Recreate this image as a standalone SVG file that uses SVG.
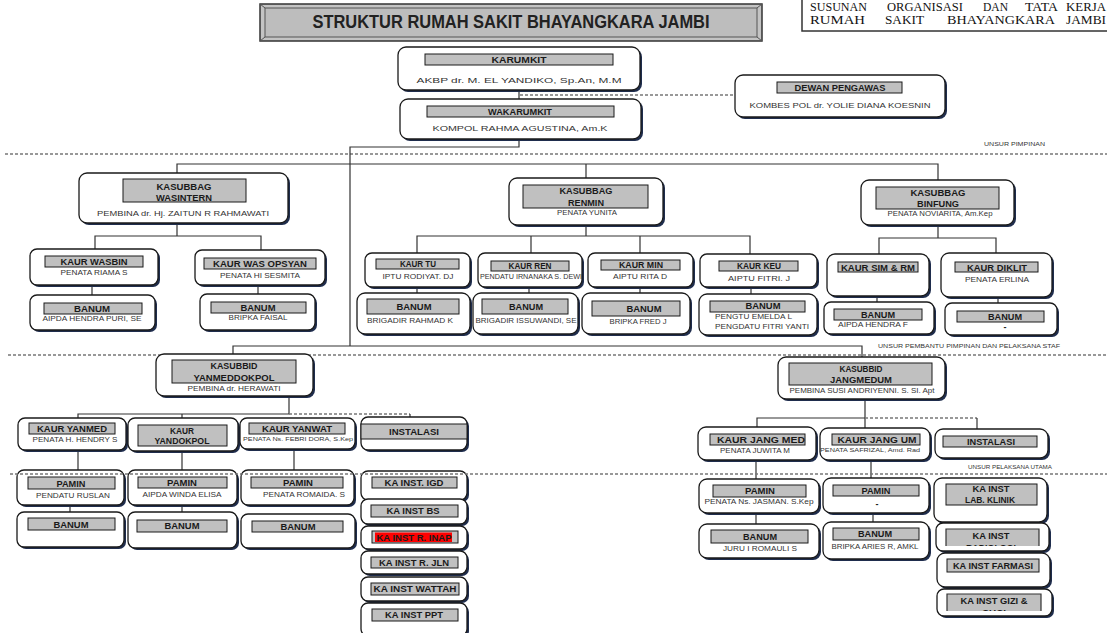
<svg xmlns="http://www.w3.org/2000/svg" width="1107" height="633" viewBox="0 0 1107 633">
<style>
.sh{fill:#1f2d4d}
.bx{fill:#fff;stroke:#1a1a1a;stroke-width:1.3}
.lb{fill:#c0c0c0;stroke:#1a1a1a;stroke-width:1}
.lbf{fill:#c0c0c0;stroke:none}
.t{font-family:"Liberation Sans",Arial,sans-serif;font-weight:bold;font-size:9px;fill:#1a1a1a;text-anchor:middle}
.n{font-family:"Liberation Sans",Arial,sans-serif;font-size:8px;fill:#333;text-anchor:middle}
.nl{font-family:"Liberation Sans",Arial,sans-serif;font-size:8px;fill:#333;text-anchor:start}
.s{font-family:"Liberation Sans",Arial,sans-serif;font-size:6px;fill:#333;text-anchor:middle}
.ln{stroke:#333;stroke-width:1.2;fill:none}
.ds{stroke:#777;stroke-width:1.5;stroke-dasharray:3 2;fill:none}
.sf{font-family:"Liberation Serif","Times New Roman",serif;font-size:12.5px;fill:#111}
</style>
<defs>
<clipPath id="clipRad"><rect x="940" y="525" width="105" height="21"/></clipPath>
<clipPath id="clipGizi"><rect x="940" y="590" width="105" height="21"/></clipPath>
</defs>
<rect width="1107" height="633" fill="#fff"/>

<!-- header -->
<g id="title">
<rect x="260" y="4" width="502" height="37" fill="#c4c4c4" stroke="#333" stroke-width="1.5"/>
<rect x="265" y="8" width="492" height="29" fill="#bdbdbd" stroke="#555" stroke-width="1"/>
<line x1="260" y1="4" x2="265" y2="8" stroke="#555"/><line x1="260" y1="41" x2="265" y2="37" stroke="#555"/>
<line x1="762" y1="4" x2="757" y2="8" stroke="#555"/><line x1="762" y1="41" x2="757" y2="37" stroke="#555"/>
<text x="511" y="28" font-family="Liberation Sans,Arial,sans-serif" font-weight="bold" font-size="18" fill="#222" text-anchor="middle" textLength="397" lengthAdjust="spacingAndGlyphs">STRUKTUR RUMAH SAKIT BHAYANGKARA JAMBI</text>
</g>
<g id="header-right">
<rect x="802" y="-3" width="312" height="34" fill="#fff" stroke="#333" stroke-width="1.5"/>
<text class="sf" y="11"><tspan x="810" textLength="57" lengthAdjust="spacingAndGlyphs">SUSUNAN</tspan><tspan x="887" textLength="76" lengthAdjust="spacingAndGlyphs">ORGANISASI</tspan><tspan x="983" textLength="25" lengthAdjust="spacingAndGlyphs">DAN</tspan><tspan x="1025" textLength="33" lengthAdjust="spacingAndGlyphs">TATA</tspan><tspan x="1066" textLength="40" lengthAdjust="spacingAndGlyphs">KERJA</tspan></text>
<text class="sf" y="24"><tspan x="810" textLength="55" lengthAdjust="spacingAndGlyphs">RUMAH</tspan><tspan x="885" textLength="39" lengthAdjust="spacingAndGlyphs">SAKIT</tspan><tspan x="947" textLength="108" lengthAdjust="spacingAndGlyphs">BHAYANGKARA</tspan><tspan x="1066" textLength="40" lengthAdjust="spacingAndGlyphs">JAMBI</tspan></text>
</g>

<!-- separators -->
<g id="separators">
<line class="ds" x1="5" y1="154" x2="1107" y2="154"/>
<line class="ds" x1="8" y1="355" x2="1107" y2="355"/>
<text x="984" y="146" font-family="Liberation Sans,Arial,sans-serif" font-size="6" fill="#333" textLength="61" lengthAdjust="spacingAndGlyphs">UNSUR PIMPINAN</text>
<text x="878" y="348" font-family="Liberation Sans,Arial,sans-serif" font-size="6" fill="#333" textLength="182" lengthAdjust="spacingAndGlyphs">UNSUR PEMBANTU PIMPINAN DAN PELAKSANA STAF</text>
<text x="968" y="469" font-family="Liberation Sans,Arial,sans-serif" font-size="6" fill="#333" textLength="84" lengthAdjust="spacingAndGlyphs">UNSUR PELAKSANA UTAMA</text>
</g>

<!-- connectors -->
<g id="connectors">
<path class="ln" d="M519 90V99"/>
<path class="ds" d="M520 95H735" stroke-width="1.2"/>
<path class="ln" d="M519 139V147H350V346"/>
<path class="ln" d="M233 354V346H862V357"/>
<path class="ln" d="M177 173V164H938V180M586 164V178"/>
<path class="ln" d="M177 223V236M95 249V236H261V250M92 285V295M258 285V294"/>
<path class="ln" d="M586 225V236M417 253V236H750V254M531 236V253M640 236V253"/>
<path class="ln" d="M417 287V293M529 287V293M640 287V293M751 287V294"/>
<path class="ln" d="M938 225V238M879 254V238H996V253M877 296V302M998 297V303"/>
<path class="ln" d="M289 396V414H78V418M182 414V418"/>
<path class="ds" d="M289 414H410" stroke-width="1.2"/>
<path class="ln" d="M410 414V417"/>
<path class="ln" d="M78 450V470M182 451V470M294 449V470M70 505V512M182 505V512"/>
<path class="ln" d="M865 399V428M757 427V418H865"/>
<path class="ds" d="M865 418H977" stroke-width="1.2"/>
<path class="ln" d="M977 418V429"/>
<path class="ln" d="M756 460V479M756 513V524M871 460V478M873 513V522"/>
</g>

<!-- top -->
<g id="karumkit">
<rect class="sh" x="400" y="49" width="242" height="43" rx="8"/>
<rect class="bx" x="398" y="47" width="242" height="43" rx="8"/>
<rect class="lb" x="425" y="54" width="188" height="11"/>
<text class="t" x="519" y="63" textLength="55" lengthAdjust="spacingAndGlyphs">KARUMKIT</text>
<text class="n" x="519" y="83" font-size="11" textLength="205" lengthAdjust="spacingAndGlyphs">AKBP dr. M. EL YANDIKO, Sp.An, M.M</text>
</g>
<g id="wakarumkit">
<rect class="sh" x="402" y="101" width="241" height="40" rx="8"/>
<rect class="bx" x="400" y="99" width="241" height="40" rx="8"/>
<rect class="lb" x="427" y="106" width="187" height="11"/>
<text class="t" x="520" y="115" textLength="64" lengthAdjust="spacingAndGlyphs">WAKARUMKIT</text>
<text class="n" x="520" y="131" font-size="10.5" textLength="175" lengthAdjust="spacingAndGlyphs">KOMPOL RAHMA AGUSTINA, Am.K</text>
</g>
<g id="dewan-pengawas">
<rect class="sh" x="737" y="77" width="210" height="42" rx="8"/>
<rect class="bx" x="735" y="75" width="210" height="42" rx="8"/>
<rect class="lb" x="777" y="82" width="125" height="11"/>
<text class="t" x="840" y="90.5" font-size="8.5" textLength="91" lengthAdjust="spacingAndGlyphs">DEWAN PENGAWAS</text>
<text class="n" x="840" y="108" font-size="8.5" textLength="181" lengthAdjust="spacingAndGlyphs">KOMBES POL dr. YOLIE DIANA KOESNIN</text>
</g>

<!-- WASINTERN -->
<g id="wasintern">
<rect class="sh" x="81" y="175" width="209" height="50" rx="8"/>
<rect class="bx" x="79" y="173" width="209" height="50" rx="8"/>
<rect class="lb" x="123" y="179" width="123" height="23"/>
<text class="t" x="184" y="190" textLength="55" lengthAdjust="spacingAndGlyphs">KASUBBAG</text>
<text class="t" x="184" y="200.5" textLength="56" lengthAdjust="spacingAndGlyphs">WASINTERN</text>
<text class="n" x="183" y="216" textLength="172" lengthAdjust="spacingAndGlyphs">PEMBINA dr. Hj. ZAITUN R RAHMAWATI</text>
</g>
<g id="kaur-wasbin">
<rect class="sh" x="32" y="251" width="128" height="36" rx="7"/>
<rect class="bx" x="30" y="249" width="128" height="36" rx="7"/>
<rect class="lb" x="45" y="256" width="98" height="11"/>
<text class="t" x="94" y="265" textLength="67" lengthAdjust="spacingAndGlyphs">KAUR WASBIN</text>
<text class="n" x="94" y="274.5" font-size="7.5" textLength="67" lengthAdjust="spacingAndGlyphs">PENATA RIAMA S</text>
</g>
<g id="kaur-was-opsyan">
<rect class="sh" x="197" y="252" width="130" height="35" rx="7"/>
<rect class="bx" x="195" y="250" width="130" height="35" rx="7"/>
<rect class="lb" x="204" y="258" width="112" height="11"/>
<text class="t" x="260" y="267" textLength="94" lengthAdjust="spacingAndGlyphs">KAUR WAS OPSYAN</text>
<text class="n" x="260" y="278" textLength="80" lengthAdjust="spacingAndGlyphs">PENATA HI SESMITA</text>
</g>
<g id="banum-wasbin">
<rect class="sh" x="32" y="297" width="125" height="35" rx="7"/>
<rect class="bx" x="30" y="295" width="125" height="35" rx="7"/>
<rect class="lb" x="44" y="303" width="98" height="11"/>
<text class="t" x="92" y="311.5" textLength="36" lengthAdjust="spacingAndGlyphs">BANUM</text>
<text class="n" x="92" y="321" textLength="99" lengthAdjust="spacingAndGlyphs">AIPDA HENDRA PURI, SE</text>
</g>
<g id="banum-opsyan">
<rect class="sh" x="202" y="296" width="115" height="36" rx="7"/>
<rect class="bx" x="200" y="294" width="115" height="36" rx="7"/>
<rect class="lb" x="211" y="302" width="95" height="11"/>
<text class="t" x="258" y="310.5" textLength="35" lengthAdjust="spacingAndGlyphs">BANUM</text>
<text class="n" x="258" y="319.5" textLength="59" lengthAdjust="spacingAndGlyphs">BRIPKA FAISAL</text>
</g>

<!-- RENMIN -->
<g id="renmin">
<rect class="sh" x="511" y="180" width="154" height="47" rx="8"/>
<rect class="bx" x="509" y="178" width="154" height="47" rx="8"/>
<rect class="lb" x="523" y="185" width="125" height="23"/>
<text class="t" x="586" y="194" textLength="53" lengthAdjust="spacingAndGlyphs">KASUBBAG</text>
<text class="t" x="586" y="205.5" textLength="36" lengthAdjust="spacingAndGlyphs">RENMIN</text>
<text class="n" x="587" y="215" font-size="7.5" textLength="60" lengthAdjust="spacingAndGlyphs">PENATA YUNITA</text>
</g>
<g id="kaur-tu">
<rect class="sh" x="367" y="255" width="105" height="34" rx="7"/>
<rect class="bx" x="365" y="253" width="105" height="34" rx="7"/>
<rect class="lb" x="376" y="259" width="83" height="10"/>
<text class="t" x="418" y="267" textLength="36" lengthAdjust="spacingAndGlyphs">KAUR TU</text>
<text class="n" x="418" y="279" textLength="71" lengthAdjust="spacingAndGlyphs">IPTU RODIYAT. DJ</text>
</g>
<g id="kaur-ren">
<rect class="sh" x="480" y="255" width="104" height="34" rx="7"/>
<rect class="bx" x="478" y="253" width="104" height="34" rx="7"/>
<rect class="lb" x="491" y="261" width="78" height="10"/>
<text class="t" x="530" y="269" textLength="43" lengthAdjust="spacingAndGlyphs">KAUR REN</text>
<text class="n" x="531" y="279" font-size="7" textLength="102" lengthAdjust="spacingAndGlyphs">PENDATU IRNANAKA S. DEWI</text>
</g>
<g id="kaur-min">
<rect class="sh" x="590" y="255" width="105" height="34" rx="7"/>
<rect class="bx" x="588" y="253" width="105" height="34" rx="7"/>
<rect class="lb" x="601" y="260" width="79" height="10"/>
<text class="t" x="641" y="268" textLength="44" lengthAdjust="spacingAndGlyphs">KAUR MIN</text>
<text class="n" x="640" y="279" textLength="54" lengthAdjust="spacingAndGlyphs">AIPTU RITA D</text>
</g>
<g id="kaur-keu">
<rect class="sh" x="702" y="256" width="117" height="33" rx="7"/>
<rect class="bx" x="700" y="254" width="117" height="33" rx="7"/>
<rect class="lb" x="719" y="261" width="79" height="10"/>
<text class="t" x="759" y="269" textLength="44" lengthAdjust="spacingAndGlyphs">KAUR KEU</text>
<text class="n" x="759" y="281" textLength="62" lengthAdjust="spacingAndGlyphs">AIPTU FITRI. J</text>
</g>
<g id="banum-tu">
<rect class="sh" x="359" y="295" width="113" height="41" rx="8"/>
<rect class="bx" x="357" y="293" width="113" height="41" rx="8"/>
<rect class="lb" x="367" y="299" width="92" height="15"/>
<text class="t" x="414" y="310" textLength="35" lengthAdjust="spacingAndGlyphs">BANUM</text>
<text class="n" x="410" y="323" textLength="86" lengthAdjust="spacingAndGlyphs">BRIGADIR RAHMAD K</text>
</g>
<g id="banum-ren">
<rect class="sh" x="475" y="295" width="105" height="41" rx="8"/>
<rect class="bx" x="473" y="293" width="105" height="41" rx="8"/>
<rect class="lb" x="482" y="299" width="86" height="15"/>
<text class="t" x="526" y="310" textLength="34" lengthAdjust="spacingAndGlyphs">BANUM</text>
<text class="n" x="526" y="323" textLength="101" lengthAdjust="spacingAndGlyphs">BRIGADIR ISSUWANDI, SE</text>
</g>
<g id="banum-min">
<rect class="sh" x="584" y="295" width="108" height="41" rx="8"/>
<rect class="bx" x="582" y="293" width="108" height="41" rx="8"/>
<rect class="lb" x="592" y="301" width="88" height="15"/>
<text class="t" x="644" y="312" textLength="35" lengthAdjust="spacingAndGlyphs">BANUM</text>
<text class="n" x="638" y="324" textLength="57" lengthAdjust="spacingAndGlyphs">BRIPKA FRED J</text>
</g>
<g id="banum-keu">
<rect class="sh" x="701" y="296" width="118" height="41" rx="8"/>
<rect class="bx" x="699" y="294" width="118" height="41" rx="8"/>
<rect class="lb" x="710" y="301" width="95" height="11"/>
<text class="t" x="763" y="309" textLength="35" lengthAdjust="spacingAndGlyphs">BANUM</text>
<text class="nl" x="715" y="318.5" textLength="77" lengthAdjust="spacingAndGlyphs">PENGTU EMELDA L</text>
<text class="nl" x="715" y="328.5" textLength="94" lengthAdjust="spacingAndGlyphs">PENGDATU FITRI YANTI</text>
</g>

<!-- BINFUNG -->
<g id="binfung">
<rect class="sh" x="863" y="182" width="153" height="45" rx="8"/>
<rect class="bx" x="861" y="180" width="153" height="45" rx="8"/>
<rect class="lb" x="876" y="187" width="123" height="22"/>
<text class="t" x="938" y="195.5" textLength="55" lengthAdjust="spacingAndGlyphs">KASUBBAG</text>
<text class="t" x="938" y="206.5" textLength="42" lengthAdjust="spacingAndGlyphs">BINFUNG</text>
<text class="n" x="940" y="216" font-size="7.5" textLength="105" lengthAdjust="spacingAndGlyphs">PENATA NOVIARITA, Am.Kep</text>
</g>
<g id="kaur-sim-rm">
<rect class="sh" x="829" y="256" width="102" height="42" rx="8"/>
<rect class="bx" x="827" y="254" width="102" height="42" rx="8"/>
<rect class="lb" x="838" y="262" width="80" height="10"/>
<text class="t" x="878" y="270.5" textLength="74" lengthAdjust="spacingAndGlyphs">KAUR SIM &amp; RM</text>
</g>
<g id="kaur-diklit">
<rect class="sh" x="943" y="255" width="111" height="44" rx="8"/>
<rect class="bx" x="941" y="253" width="111" height="44" rx="8"/>
<rect class="lb" x="955" y="262" width="83" height="10"/>
<text class="t" x="997" y="270.5" textLength="60" lengthAdjust="spacingAndGlyphs">KAUR DIKLIT</text>
<text class="n" x="997" y="282" textLength="64" lengthAdjust="spacingAndGlyphs">PENATA ERLINA</text>
</g>
<g id="banum-sim">
<rect class="sh" x="826" y="304" width="110" height="32" rx="7"/>
<rect class="bx" x="824" y="302" width="110" height="32" rx="7"/>
<rect class="lb" x="834" y="309" width="88" height="11"/>
<text class="t" x="878" y="318" textLength="34" lengthAdjust="spacingAndGlyphs">BANUM</text>
<text class="n" x="873" y="327" textLength="70" lengthAdjust="spacingAndGlyphs">AIPDA HENDRA  F</text>
</g>
<g id="banum-diklit">
<rect class="sh" x="947" y="305" width="112" height="32" rx="7"/>
<rect class="bx" x="945" y="303" width="112" height="32" rx="7"/>
<rect class="lb" x="957" y="311" width="87" height="11"/>
<text class="t" x="1005" y="319.5" textLength="34" lengthAdjust="spacingAndGlyphs">BANUM</text>
<text class="t" x="1005" y="330">-</text>
</g>

<!-- YANMEDDOKPOL -->
<g id="yanmeddokpol">
<rect class="sh" x="158" y="356" width="157" height="42" rx="8"/>
<rect class="bx" x="156" y="354" width="157" height="42" rx="8"/>
<rect class="lb" x="172" y="360" width="124" height="23"/>
<text class="t" x="234" y="368.5" textLength="47" lengthAdjust="spacingAndGlyphs">KASUBBID</text>
<text class="t" x="234" y="380.5" textLength="81" lengthAdjust="spacingAndGlyphs">YANMEDDOKPOL</text>
<text class="n" x="234" y="391" font-size="7.5" textLength="93" lengthAdjust="spacingAndGlyphs">PEMBINA dr. HERAWATI</text>
</g>
<g id="kaur-yanmed">
<rect class="sh" x="20" y="420" width="108" height="32" rx="7"/>
<rect class="bx" x="18" y="418" width="108" height="32" rx="7"/>
<rect class="lb" x="29" y="423" width="86" height="11"/>
<text class="t" x="72" y="432" textLength="70" lengthAdjust="spacingAndGlyphs">KAUR YANMED</text>
<text class="n" x="75" y="442" font-size="7" textLength="85" lengthAdjust="spacingAndGlyphs">PENATA H. HENDRY S</text>
</g>
<g id="kaur-yandokpol">
<rect class="sh" x="130" y="420" width="110" height="33" rx="7"/>
<rect class="bx" x="128" y="418" width="110" height="33" rx="7"/>
<rect class="lb" x="138" y="425" width="89" height="21"/>
<text class="t" x="182" y="433.5" textLength="24" lengthAdjust="spacingAndGlyphs">KAUR</text>
<text class="t" x="182" y="444" textLength="55" lengthAdjust="spacingAndGlyphs">YANDOKPOL</text>
</g>
<g id="kaur-yanwat">
<rect class="sh" x="242" y="420" width="115" height="31" rx="7"/>
<rect class="bx" x="240" y="418" width="115" height="31" rx="7"/>
<rect class="lb" x="249" y="423" width="96" height="11"/>
<text class="t" x="297" y="432" textLength="70" lengthAdjust="spacingAndGlyphs">KAUR YANWAT</text>
<text class="s" x="298" y="440.5" textLength="110" lengthAdjust="spacingAndGlyphs">PENATA Ns. FEBRI DORA, S.Kep</text>
</g>
<g id="instalasi-yanmed">
<rect class="sh" x="363" y="419" width="106" height="33" rx="7"/>
<rect class="bx" x="361" y="417" width="106" height="33" rx="7"/>
<rect class="lb" x="361" y="424" width="106" height="15"/>
<text class="t" x="414" y="434.5" textLength="50" lengthAdjust="spacingAndGlyphs">INSTALASI</text>
</g>
<g id="pamin-yanmed">
<rect class="sh" x="19" y="472" width="107" height="35" rx="7"/>
<rect class="bx" x="17" y="470" width="107" height="35" rx="7"/>
<rect class="lb" x="28" y="477" width="87" height="12"/>
<text class="t" x="71" y="486.5" textLength="29" lengthAdjust="spacingAndGlyphs">PAMIN</text>
<text class="n" x="73" y="497.5" font-size="7.5" textLength="74" lengthAdjust="spacingAndGlyphs">PENDATU RUSLAN</text>
</g>
<g id="pamin-yandokpol">
<rect class="sh" x="130" y="472" width="109" height="35" rx="7"/>
<rect class="bx" x="128" y="470" width="109" height="35" rx="7"/>
<rect class="lb" x="138" y="477" width="89" height="11"/>
<text class="t" x="182" y="486" textLength="30" lengthAdjust="spacingAndGlyphs">PAMIN</text>
<text class="n" x="182" y="496.5" font-size="7.5" textLength="79" lengthAdjust="spacingAndGlyphs">AIPDA WINDA ELISA</text>
</g>
<g id="pamin-yanwat">
<rect class="sh" x="243" y="472" width="113" height="35" rx="7"/>
<rect class="bx" x="241" y="470" width="113" height="35" rx="7"/>
<rect class="lb" x="251" y="477" width="92" height="11"/>
<text class="t" x="298" y="486" textLength="30" lengthAdjust="spacingAndGlyphs">PAMIN</text>
<text class="n" x="304" y="496.5" font-size="7.5" textLength="82" lengthAdjust="spacingAndGlyphs">PENATA ROMAIDA. S</text>
</g>
<g id="banum-yanmed">
<rect class="sh" x="19" y="514" width="107" height="35" rx="7"/>
<rect class="bx" x="17" y="512" width="107" height="35" rx="7"/>
<rect class="lb" x="28" y="518" width="87" height="12"/>
<text class="t" x="71" y="527.5" textLength="35" lengthAdjust="spacingAndGlyphs">BANUM</text>
</g>
<g id="banum-yandokpol">
<rect class="sh" x="130" y="514" width="109" height="36" rx="7"/>
<rect class="bx" x="128" y="512" width="109" height="36" rx="7"/>
<rect class="lb" x="137" y="520" width="90" height="12"/>
<text class="t" x="182" y="529" textLength="35" lengthAdjust="spacingAndGlyphs">BANUM</text>
</g>
<g id="banum-yanwat">
<rect class="sh" x="243" y="516" width="114" height="34" rx="7"/>
<rect class="bx" x="241" y="514" width="114" height="34" rx="7"/>
<rect class="lb" x="252" y="521" width="91" height="11"/>
<text class="t" x="298" y="530" textLength="35" lengthAdjust="spacingAndGlyphs">BANUM</text>
</g>

<!-- KA INST left column -->
<g id="ka-inst-igd">
<rect class="sh" x="363" y="473" width="106" height="29" rx="7"/>
<rect class="bx" x="361" y="471" width="106" height="29" rx="7"/>
<rect class="lb" x="372" y="477" width="85" height="11"/>
<text class="t" x="414" y="485.5" textLength="59" lengthAdjust="spacingAndGlyphs">KA INST. IGD</text>
</g>
<g id="ka-inst-bs">
<rect class="sh" x="363" y="501" width="106" height="25" rx="7"/>
<rect class="bx" x="361" y="499" width="106" height="25" rx="7"/>
<rect class="lb" x="371" y="505" width="87" height="12"/>
<text class="t" x="413" y="514" textLength="53" lengthAdjust="spacingAndGlyphs">KA INST BS</text>
</g>
<g id="ka-inst-r-inap">
<rect class="sh" x="363" y="528" width="106" height="23" rx="7"/>
<rect class="bx" x="361" y="526" width="106" height="23" rx="7"/>
<rect class="lb" x="372" y="531" width="86" height="12"/>
<rect x="375" y="532.5" width="77" height="9.5" fill="#ff0000"/>
<text class="t" x="414" y="540.5" textLength="75" lengthAdjust="spacingAndGlyphs">KA INST R. INAP</text>
</g>
<g id="ka-inst-r-jln">
<rect class="sh" x="363" y="553" width="106" height="23" rx="7"/>
<rect class="bx" x="361" y="551" width="106" height="23" rx="7"/>
<rect class="lb" x="371" y="557" width="87" height="11"/>
<text class="t" x="414" y="566" textLength="70" lengthAdjust="spacingAndGlyphs">KA INST R. JLN</text>
</g>
<g id="ka-inst-wattah">
<rect class="sh" x="363" y="579" width="106" height="24" rx="7"/>
<rect class="bx" x="361" y="577" width="106" height="24" rx="7"/>
<rect class="lb" x="371" y="583" width="88" height="12"/>
<text class="t" x="415" y="592" textLength="83" lengthAdjust="spacingAndGlyphs">KA INST WATTAH</text>
</g>
<g id="ka-inst-ppt">
<rect class="sh" x="363" y="605" width="106" height="33" rx="7"/>
<rect class="bx" x="361" y="603" width="106" height="33" rx="7"/>
<rect class="lb" x="372" y="609" width="86" height="12"/>
<text class="t" x="414" y="618" textLength="58" lengthAdjust="spacingAndGlyphs">KA INST PPT</text>
</g>

<!-- JANGMEDUM -->
<g id="jangmedum">
<rect class="sh" x="780" y="359" width="167" height="42" rx="8"/>
<rect class="bx" x="778" y="357" width="167" height="42" rx="8"/>
<rect class="lb" x="789" y="363" width="143" height="22"/>
<text class="t" x="861" y="371.5" textLength="43" lengthAdjust="spacingAndGlyphs">KASUBBID</text>
<text class="t" x="861" y="383" textLength="62" lengthAdjust="spacingAndGlyphs">JANGMEDUM</text>
<text class="n" x="862" y="393" font-size="7" textLength="145" lengthAdjust="spacingAndGlyphs">PEMBINA SUSI ANDRIYENNI. S. SI. Apt</text>
</g>
<g id="kaur-jang-med">
<rect class="sh" x="700" y="429" width="118" height="33" rx="8"/>
<rect class="bx" x="698" y="427" width="118" height="33" rx="8"/>
<rect class="lb" x="710" y="434" width="95" height="11"/>
<text class="t" x="761" y="443" textLength="88" lengthAdjust="spacingAndGlyphs">KAUR JANG MED</text>
<text class="n" x="755" y="452.5" font-size="7.5" textLength="70" lengthAdjust="spacingAndGlyphs">PENATA JUWITA M</text>
</g>
<g id="kaur-jang-um">
<rect class="sh" x="822" y="430" width="110" height="32" rx="8"/>
<rect class="bx" x="820" y="428" width="110" height="32" rx="8"/>
<rect class="lb" x="832" y="434" width="88" height="11"/>
<text class="t" x="877" y="443" textLength="79" lengthAdjust="spacingAndGlyphs">KAUR JANG UM</text>
<text class="s" x="870" y="452" font-size="6.5" textLength="100" lengthAdjust="spacingAndGlyphs">PENATA SAFRIZAL, Amd. Rad</text>
</g>
<g id="instalasi-jangmedum">
<rect class="sh" x="937" y="431" width="113" height="29" rx="8"/>
<rect class="bx" x="935" y="429" width="113" height="29" rx="8"/>
<rect class="lb" x="943" y="436" width="94" height="11"/>
<text class="t" x="991" y="444.5" textLength="48" lengthAdjust="spacingAndGlyphs">INSTALASI</text>
</g>
<g id="pamin-jang-med">
<rect class="sh" x="701" y="481" width="120" height="34" rx="8"/>
<rect class="bx" x="699" y="479" width="120" height="34" rx="8"/>
<rect class="lb" x="713" y="485" width="93" height="12"/>
<text class="t" x="760" y="494" textLength="30" lengthAdjust="spacingAndGlyphs">PAMIN</text>
<text class="n" x="759" y="503.5" textLength="109" lengthAdjust="spacingAndGlyphs">PENATA Ns. JASMAN. S.Kep</text>
</g>
<g id="pamin-jang-um">
<rect class="sh" x="825" y="480" width="106" height="35" rx="8"/>
<rect class="bx" x="823" y="478" width="106" height="35" rx="8"/>
<rect class="lb" x="833" y="485" width="86" height="11"/>
<text class="t" x="876" y="493.5" textLength="29" lengthAdjust="spacingAndGlyphs">PAMIN</text>
<text class="t" x="877" y="507">-</text>
</g>
<g id="banum-jang-med">
<rect class="sh" x="701" y="526" width="120" height="34" rx="8"/>
<rect class="bx" x="699" y="524" width="120" height="34" rx="8"/>
<rect class="lb" x="711" y="530" width="97" height="13"/>
<text class="t" x="760" y="540" textLength="34" lengthAdjust="spacingAndGlyphs">BANUM</text>
<text class="n" x="760" y="550.5" textLength="74" lengthAdjust="spacingAndGlyphs">JURU I ROMAULI S</text>
</g>
<g id="banum-jang-um">
<rect class="sh" x="825" y="524" width="106" height="37" rx="8"/>
<rect class="bx" x="823" y="522" width="106" height="37" rx="8"/>
<rect class="lb" x="833" y="528" width="86" height="12"/>
<text class="t" x="875" y="537" textLength="34" lengthAdjust="spacingAndGlyphs">BANUM</text>
<text class="n" x="875" y="549" textLength="87" lengthAdjust="spacingAndGlyphs">BRIPKA ARIES R, AMKL</text>
</g>
<g id="ka-inst-lab-klinik">
<rect class="sh" x="936" y="480" width="113" height="44" rx="8"/>
<rect class="bx" x="934" y="478" width="113" height="44" rx="8"/>
<rect class="lb" x="946" y="484" width="91" height="21"/>
<text class="t" x="991" y="492" textLength="37" lengthAdjust="spacingAndGlyphs">KA INST</text>
<text class="t" x="990" y="502.5" textLength="50" lengthAdjust="spacingAndGlyphs">LAB. KLINIK</text>
</g>
<g id="ka-inst-radiologi">
<rect class="sh" x="938" y="525" width="113" height="28" rx="7"/>
<rect class="bx" x="936" y="523" width="113" height="28" rx="7"/>
<rect class="lbf" x="946" y="529" width="93" height="17"/>
<path class="ln" d="M946 546V529H1039V546" stroke="#1a1a1a" stroke-width="1"/>
<text class="t" x="991" y="539" textLength="37" lengthAdjust="spacingAndGlyphs">KA INST</text>
<text class="t" x="991" y="551" clip-path="url(#clipRad)" textLength="50" lengthAdjust="spacingAndGlyphs">RADIOLOGI</text>
</g>
<g id="ka-inst-farmasi">
<rect class="sh" x="939" y="555" width="113" height="34" rx="8"/>
<rect class="bx" x="937" y="553" width="113" height="34" rx="8"/>
<rect class="lb" x="947" y="559" width="92" height="13"/>
<text class="t" x="993" y="569" textLength="80" lengthAdjust="spacingAndGlyphs">KA INST FARMASI</text>
</g>
<g id="ka-inst-gizi">
<rect class="sh" x="939" y="591" width="115" height="27" rx="7"/>
<rect class="bx" x="937" y="589" width="115" height="27" rx="7"/>
<rect class="lbf" x="947" y="594" width="94" height="17"/>
<path class="ln" d="M947 611V594H1041V611" stroke="#1a1a1a" stroke-width="1"/>
<text class="t" x="994" y="603.5" textLength="67" lengthAdjust="spacingAndGlyphs">KA INST GIZI &amp;</text>
<text class="t" x="994" y="616" clip-path="url(#clipGizi)" textLength="24" lengthAdjust="spacingAndGlyphs">CUCI</text>
</g>

<!-- dashed separator through lower rows -->
<line class="ds" x1="10" y1="474" x2="1107" y2="474"/>
</svg>
